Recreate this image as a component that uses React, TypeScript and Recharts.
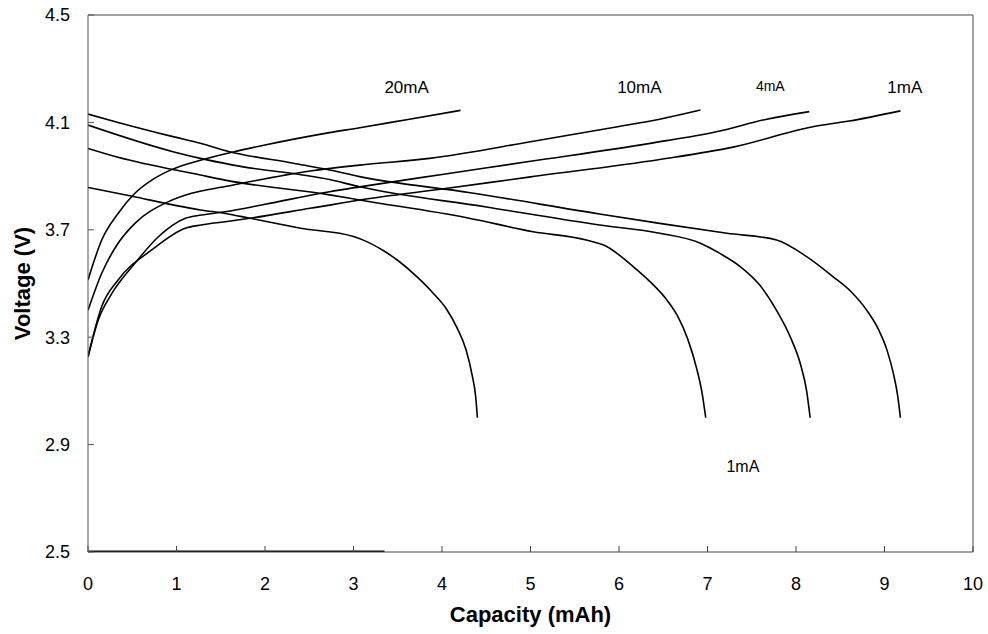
import { LineChart, Line, XAxis, YAxis, ReferenceLine, ReferenceDot } from 'recharts'

const FONT = 'Arial, "Liberation Sans", sans-serif'

// capacity (mAh) / voltage (V) pairs
const charge20X = [0, 0.155, 0.34, 0.53, 0.72, 0.95, 1.28, 1.64, 2.0, 2.73, 3.07, 3.6, 4.21]
const charge20V = [3.513, 3.662, 3.761, 3.836, 3.885, 3.925, 3.96, 3.99, 4.016, 4.062, 4.08, 4.11, 4.145]

const charge10X = [0, 0.155, 0.34, 0.53, 0.91, 1.17, 1.55, 2.51, 3.07, 3.86, 5.0, 6.0, 6.46, 6.92]
const charge10V = [3.4, 3.538, 3.65, 3.724, 3.805, 3.836, 3.861, 3.919, 3.941, 3.966, 4.028, 4.085, 4.112, 4.146]

const charge4X = [0, 0.116, 0.27, 0.53, 0.795, 1.1, 1.28, 1.55, 2.0, 2.73, 3.07, 4.0, 5.0, 6.35, 7.1, 7.67, 8.15]
const charge4V = [3.227, 3.364, 3.463, 3.575, 3.674, 3.743, 3.755, 3.767, 3.795, 3.842, 3.86, 3.906, 3.955, 4.022, 4.065, 4.112, 4.14]

const charge1X = [0, 0.155, 0.34, 0.72, 1.1, 1.28, 1.55, 1.83, 2.51, 2.73, 3.07, 4.0, 5.0, 6.46, 7.29, 8.19, 8.6, 9.18]
const charge1V = [3.227, 3.414, 3.513, 3.625, 3.706, 3.718, 3.73, 3.743, 3.78, 3.792, 3.811, 3.852, 3.897, 3.962, 4.008, 4.084, 4.105, 4.143]

const discharge1X = [0, 0.34, 0.96, 1.27, 1.6, 2.32, 2.73, 3.07, 4.32, 5.78, 6.46, 7.22, 7.78, 8.12, 8.42, 8.62, 8.8, 8.93, 9.03, 9.1, 9.15, 9.18]
const discharge1V = [4.131, 4.1, 4.047, 4.022, 3.991, 3.948, 3.923, 3.898, 3.838, 3.759, 3.724, 3.687, 3.662, 3.6, 3.525, 3.47, 3.4, 3.33, 3.25, 3.165, 3.08, 3.0]

const discharge4X = [0, 0.96, 1.27, 1.64, 2.73, 3.07, 4.5, 5.78, 6.46, 6.92, 7.14, 7.37, 7.59, 7.78, 7.95, 8.05, 8.12, 8.16]
const discharge4V = [4.09, 3.991, 3.966, 3.941, 3.887, 3.86, 3.785, 3.718, 3.687, 3.65, 3.612, 3.563, 3.494, 3.4, 3.29, 3.2, 3.1, 3.0]

const discharge10X = [0, 0.34, 1.27, 1.55, 2.73, 3.07, 4.28, 5.03, 5.63, 5.85, 6.16, 6.35, 6.54, 6.66, 6.78, 6.88, 6.94, 6.98]
const discharge10V = [4.003, 3.97, 3.904, 3.885, 3.83, 3.811, 3.745, 3.693, 3.662, 3.64, 3.563, 3.507, 3.439, 3.38, 3.29, 3.18, 3.09, 3.0]

const discharge20X = [0, 0.5, 1.0, 1.27, 1.55, 1.83, 2.4, 3.0, 3.15, 3.35, 3.52, 3.7, 3.9, 4.05, 4.17, 4.27, 4.34, 4.38, 4.4]
const discharge20V = [3.858, 3.825, 3.79, 3.774, 3.761, 3.743, 3.706, 3.675, 3.656, 3.62, 3.581, 3.53, 3.464, 3.405, 3.335, 3.255, 3.16, 3.08, 3.0]

// stray heavy trace along the bottom axis
const baseX = [0, 3.35]
const baseV = [2.5, 2.5]

const xTicks = [0, 1, 2, 3, 4, 5, 6, 7, 8, 9, 10]
const yTicks = [2.5, 2.9, 3.3, 3.7, 4.1, 4.5]

const annotations = [
  { text: '20mA', x: 3.6, y: 4.232, size: 17 },
  { text: '10mA', x: 6.23, y: 4.232, size: 17 },
  { text: '4mA', x: 7.71, y: 4.235, size: 14 },
  { text: '1mA', x: 9.23, y: 4.232, size: 17 },
  { text: '1mA', x: 7.4, y: 2.82, size: 16 },
]

const zip = (xs: number[], vs: number[]) => xs.map((x, i) => ({ x, v: vs[i] }))

const curves = [
  zip(charge20X, charge20V),
  zip(charge10X, charge10V),
  zip(charge4X, charge4V),
  zip(charge1X, charge1V),
  zip(discharge1X, discharge1V),
  zip(discharge4X, discharge4V),
  zip(discharge10X, discharge10V),
  zip(discharge20X, discharge20V),
]

export default function App() {
  const tickStyle = { fill: '#000', fontSize: 18, fontFamily: FONT }
  return (
    <div style={{ position: 'absolute', left: 0, top: 0, width: 988, height: 634, background: '#fff' }}>
      <LineChart width={988} height={634} margin={{ top: 15, right: 15, bottom: 0, left: 0 }}>
        <XAxis
          dataKey="x"
          type="number"
          domain={[0, 10]}
          ticks={xTicks}
          allowDataOverflow
          height={82}
          stroke="#444"
          tickSize={-6}
          tickMargin={31}
          tick={tickStyle}
          label={{
            value: 'Capacity (mAh)',
            position: 'insideBottom',
            offset: 12,
            style: { fontSize: 22, fontWeight: 'bold', fontFamily: FONT, fill: '#000' },
          }}
        />
        <YAxis
          type="number"
          domain={[2.5, 4.5]}
          ticks={yTicks}
          allowDataOverflow
          width={88}
          stroke="#555"
          tickSize={-6}
          tickMargin={24}
          tick={tickStyle}
          tickFormatter={(v: number) => v.toFixed(1)}
          label={{
            value: 'Voltage (V)',
            angle: -90,
            position: 'insideLeft',
            offset: 22,
            style: { fontSize: 22, fontWeight: 'bold', fontFamily: FONT, fill: '#000', textAnchor: 'middle' },
          }}
        />
        <ReferenceLine y={4.5} stroke="#444" />
        <ReferenceLine x={10} stroke="#444" />
        {curves.map((d, i) => (
          <Line
            key={i}
            data={d}
            dataKey="v"
            type="monotone"
            stroke="#000"
            strokeWidth={1.6}
            dot={false}
            activeDot={false}
            isAnimationActive={false}
          />
        ))}
        <Line
          data={zip(baseX, baseV)}
          dataKey="v"
          type="linear"
          stroke="#000"
          strokeWidth={3}
          dot={false}
          activeDot={false}
          isAnimationActive={false}
        />
        {annotations.map((a, i) => (
          <ReferenceDot
            key={'a' + i}
            x={a.x}
            y={a.y}
            r={0}
            stroke="none"
            fill="none"
            label={{ value: a.text, position: 'center', fontSize: a.size, fontFamily: FONT, fill: '#000' }}
          />
        ))}
      </LineChart>
    </div>
  )
}
